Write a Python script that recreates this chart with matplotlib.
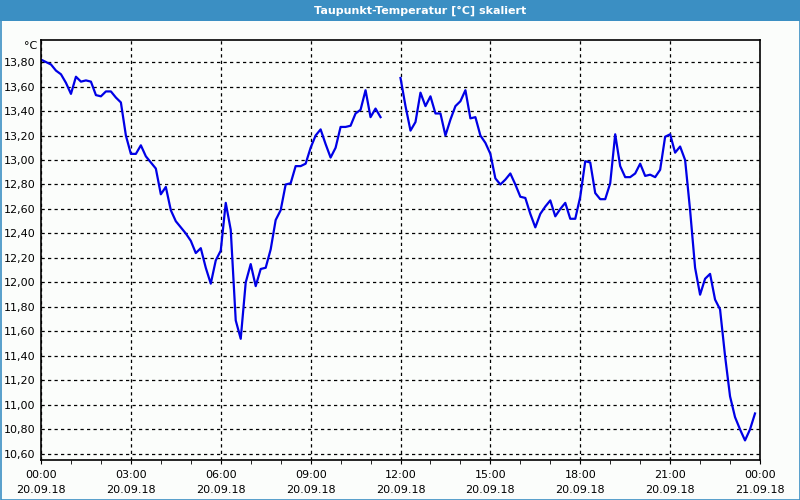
import numpy as np
import pandas as pd
import matplotlib
matplotlib.use('Agg')
from matplotlib import pyplot as plt
import matplotlib.dates as mdates
from matplotlib.patches import Rectangle

title = 'Taupunkt-Temperatur [°C] skaliert'
unit = '°C'

# 10-minute readings, 20.09.18 00:00 .. 23:50 (nan = missing)
start = '2018-09-20 00:00'
dewpoint = [13.82, 13.80, 13.78, 13.73, 13.70, 13.63, 13.54, 13.68, 13.64, 13.65,
            13.64, 13.53, 13.52, 13.56, 13.56, 13.51, 13.47, 13.20, 13.05, 13.05,
            13.12, 13.03, 12.98, 12.93, 12.72, 12.78, 12.59, 12.50, 12.45, 12.40,
            12.34, 12.24, 12.28, 12.12, 11.99, 12.18, 12.26, 12.65, 12.43, 11.69,
            11.54, 12.00, 12.15, 11.97, 12.11, 12.12, 12.27, 12.51, 12.59, 12.80,
            12.81, 12.95, 12.95, 12.97, 13.10, 13.20, 13.25, 13.13, 13.02, 13.10,
            13.27, 13.27, 13.28, 13.38, 13.41, 13.57, 13.35, 13.42, 13.35, np.nan,
            np.nan, np.nan, 13.67, 13.44, 13.24, 13.31, 13.55, 13.44, 13.52, 13.38,
            13.38, 13.20, 13.33, 13.44, 13.48, 13.57, 13.34, 13.35, 13.20, 13.14,
            13.05, 12.85, 12.80, 12.84, 12.89, 12.80, 12.70, 12.69, 12.56, 12.45,
            12.56, 12.62, 12.67, 12.54, 12.60, 12.65, 12.52, 12.52, 12.70, 12.99,
            12.98, 12.73, 12.68, 12.68, 12.81, 13.21, 12.95, 12.86, 12.86, 12.89,
            12.97, 12.87, 12.88, 12.86, 12.92, 13.19, 13.21, 13.06, 13.11, 13.00,
            12.59, 12.12, 11.90, 12.03, 12.07, 11.86, 11.78, 11.40, 11.07, 10.90,
            10.80, 10.71, 10.80, 10.93]
yticks = [10.6, 10.8, 11.0, 11.2, 11.4, 11.6, 11.8, 12.0, 12.2, 12.4, 12.6,
          12.8, 13.0, 13.2, 13.4, 13.6, 13.8]

times = pd.date_range(start, periods=len(dewpoint), freq='10min')
t0 = pd.Timestamp('2018-09-20 00:00')
t1 = pd.Timestamp('2018-09-21 00:00')

bg = '#fbfdfb'
frame_blue = '#3b8fc3'

plt.rcParams['font.family'] = 'DejaVu Sans'
fh = plt.figure(figsize=(8, 5), dpi=100, facecolor=bg)
ah = fh.add_axes([41/800, 40/500, 719/800, 420/500], facecolor=bg)

# title bar and window border
fh.patches.append(Rectangle((0, 1 - 21/500), 1, 21/500, transform=fh.transFigure,
                            facecolor=frame_blue, edgecolor='none', zorder=0))
fh.patches.append(Rectangle((0.5/800, 0.5/500), 1 - 1/800, 1 - 1/500, transform=fh.transFigure,
                            facecolor='none', edgecolor=frame_blue, linewidth=1.2, zorder=0))
fh.text(420/800, 1 - 10.5/500, title, color='white', fontsize=8, fontweight='bold',
        ha='center', va='center')

ah.plot(times, dewpoint, color='#0000e6', linewidth=1.6)

ah.set_xlim(t0, t1)
ah.set_ylim(10.55, 13.98)
ah.set_yticks(yticks)
ah.set_yticklabels([('%.2f' % v).replace('.', ',') for v in yticks])
ah.xaxis.set_major_locator(mdates.HourLocator(byhour=range(0, 24, 3)))
ah.xaxis.set_minor_locator(mdates.HourLocator())
ah.xaxis.set_major_formatter(mdates.DateFormatter('%H:%M\n%d.%m.%y'))

ah.grid(True, which='major', color='black', linestyle=(0, (2.6, 2.6)), linewidth=0.9)
ah.tick_params(axis='y', length=0, labelsize=8, pad=4)
ah.tick_params(axis='x', which='both', length=3, direction='out', labelsize=8, pad=4)
for s in ah.spines.values():
    s.set_color('black')
    s.set_linewidth(1.2)
for lbl in ah.get_xticklabels():
    lbl.set_linespacing(1.6)

fh.text(37/800, 1 - 46/500, unit, fontsize=8, ha='right', va='center')

plt.savefig('out.png', dpi=100, facecolor=bg)
